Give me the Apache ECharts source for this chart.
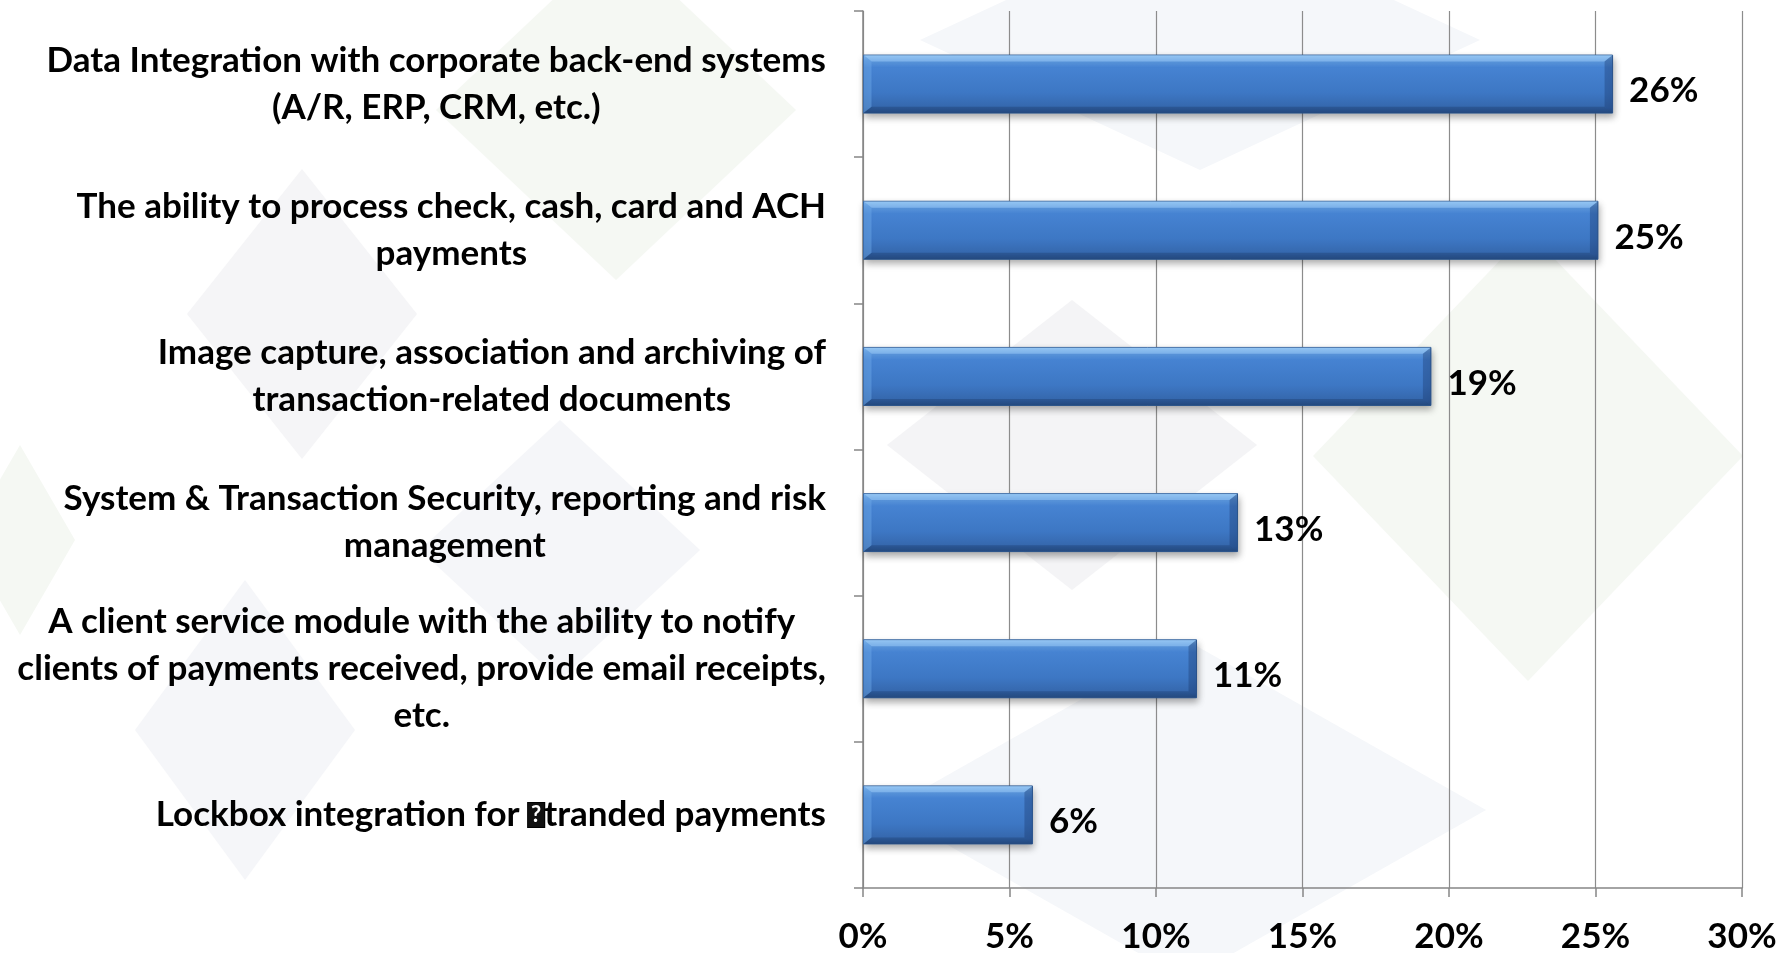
<!DOCTYPE html>
<html>
<head>
<meta charset="utf-8">
<script src="https://cdn.jsdelivr.net/npm/echarts@6/dist/echarts.min.js"></script>
<style>
  html, body { margin: 0; padding: 0; background: #ffffff; }
  #chart { width: 1788px; height: 953px; }
</style>
</head>
<body>
<div id="chart"></div>
<script>
// Survey answers, top to bottom
const categories = [
  'Data Integration with corporate back-end systems\n(A/R, ERP, CRM, etc.)',
  'The ability to process check, cash, card and ACH\npayments',
  'Image capture, association and archiving of\ntransaction-related documents',
  'System & Transaction Security, reporting and risk\nmanagement',
  'A client service module with the ability to notify\nclients of payments received, provide email receipts,\netc.',
  'Lockbox integration for {q|?}tranded payments'
];
// Share of respondents, percent
const shares = [25.6, 25.1, 19.4, 12.8, 11.4, 5.8];
// Value axis ticks, percent
const xTicks = [0, 5, 10, 15, 20, 25, 30];

const FONT = 'Lato, "Open Sans", sans-serif';
const LABEL_SIZE = 35;

// Faint diamond backdrop: [centerX, centerY, halfWidth, halfHeight, fill]
const backdrop = [
  [616, 110, 180, 170, '#f5f8f3'],
  [1200, 40, 280, 130, '#f5f7fa'],
  [302, 314, 115, 145, '#f5f5f7'],
  [560, 550, 140, 130, '#f5f6f9'],
  [245, 730, 110, 150, '#f5f6f9'],
  [1072, 445, 185, 145, '#f4f4f6'],
  [1528, 456, 215, 225, '#f5f8f3'],
  [1186, 810, 300, 170, '#f5f7fa'],
  [20, 540, 55, 95, '#f5f8f3']
];

const chart = echarts.init(document.getElementById('chart'), null, { renderer: 'canvas' });

const barGradient = new echarts.graphic.LinearGradient(0, 0, 0, 1, [
  { offset: 0.00, color: '#8cc2f3' },
  { offset: 0.10, color: '#5f9ce2' },
  { offset: 0.22, color: '#4683d2' },
  { offset: 0.65, color: '#3d77c4' },
  { offset: 0.90, color: '#3567ac' },
  { offset: 1.00, color: '#2c5690' }
]);

// Each line is its own rich token so lines centre inside the right-aligned block
function richLines(text) {
  return text.split('\n').map(function (line) {
    if (line.indexOf('{q|') >= 0) {
      return line.replace(/^(.*?)\{q\|(.*?)\}(.*)$/, function (m, a, b, c) {
        return '{c|' + a + '}{q|' + b + '}{c|' + c + '}';
      });
    }
    return '{c|' + line + '}';
  }).join('\n');
}

const option = {
  backgroundColor: '#ffffff',
  animation: false,
  graphic: backdrop.map(function (d) {
    return {
      type: 'polygon',
      z: -10,
      silent: true,
      shape: { points: [[d[0], d[1] - d[3]], [d[0] + d[2], d[1]], [d[0], d[1] + d[3]], [d[0] - d[2], d[1]]] },
      style: { fill: d[4] }
    };
  }),
  grid: { left: 863, right: 46, top: 11, bottom: 65, containLabel: false, outerBoundsMode: 'none' },
  xAxis: {
    type: 'value',
    min: xTicks[0],
    max: xTicks[xTicks.length - 1],
    interval: xTicks[1] - xTicks[0],
    axisLine: { show: true, lineStyle: { color: '#868686', width: 1.5 } },
    axisTick: { show: true, length: 9, lineStyle: { color: '#868686', width: 1.5 } },
    splitLine: { show: true, lineStyle: { color: '#8c8c8c', width: 1.2 } },
    axisLabel: {
      margin: 31,
      color: '#000',
      fontFamily: FONT,
      fontWeight: 'bold',
      fontSize: LABEL_SIZE,
      formatter: function (v) { return v + '%'; }
    }
  },
  yAxis: {
    type: 'category',
    inverse: true,
    data: categories,
    axisLine: { show: true, lineStyle: { color: '#868686', width: 1.5 } },
    axisTick: { show: true, length: 9, alignWithLabel: false, lineStyle: { color: '#868686', width: 1.5 } },
    axisLabel: {
      margin: 37,
      align: 'right',
      formatter: richLines,
      rich: {
        c: {
          align: 'center',
          color: '#000',
          fontFamily: FONT,
          fontWeight: 'bold',
          fontSize: LABEL_SIZE,
          lineHeight: 47
        },
        q: {
          align: 'center',
          color: '#ffffff',
          backgroundColor: '#111111',
          borderColor: '#000',
          borderWidth: 1,
          fontFamily: FONT,
          fontWeight: 'bold',
          fontSize: 22,
          lineHeight: 28,
          padding: [1, 3, 1, 3]
        }
      }
    }
  },
  series: [
    {
      type: 'bar',
      data: shares,
      barWidth: 59,
      itemStyle: {
        color: barGradient,
        borderColor: '#2e5a93',
        borderWidth: 1,
        shadowColor: 'rgba(0,0,0,0.35)',
        shadowBlur: 7,
        shadowOffsetY: 4,
        shadowOffsetX: 1
      },
      label: {
        show: true,
        position: 'right',
        distance: 16,
        offset: [0, 7],
        color: '#000',
        fontFamily: FONT,
        fontWeight: 'bold',
        fontSize: LABEL_SIZE,
        formatter: function (p) { return Math.round(p.value) + '%'; }
      },
      z: 3
    },
    {
      // bevelled edges drawn over each bar
      type: 'custom',
      silent: true,
      z: 4,
      data: shares.map(function (v, i) { return [v, i]; }),
      encode: { x: 0, y: 1 },
      renderItem: function (params, api) {
        const idx = api.value(1);
        const p0 = api.coord([0, idx]);
        const p1 = api.coord([api.value(0), idx]);
        const h = 59, b = 8;
        const x0 = p0[0] + 0.5, x1 = p1[0] - 0.5;
        const yt = p0[1] - h / 2 + 0.5, yb = p0[1] + h / 2 - 0.5;
        return {
          type: 'group',
          children: [
            { type: 'polygon', shape: { points: [[x0, yt], [x1, yt], [x1 - b, yt + b * 0.8], [x0 + b, yt + b * 0.8]] },
              style: { fill: 'rgba(170,215,255,0.45)' } },
            { type: 'polygon', shape: { points: [[x0, yb], [x1, yb], [x1 - b, yb - b * 0.8], [x0 + b, yb - b * 0.8]] },
              style: { fill: 'rgba(20,45,90,0.30)' } },
            { type: 'polygon', shape: { points: [[x0, yt], [x0 + b, yt + b * 0.8], [x0 + b, yb - b * 0.8], [x0, yb]] },
              style: { fill: 'rgba(110,170,235,0.45)' } },
            { type: 'polygon', shape: { points: [[x1, yt], [x1 - b, yt + b * 0.8], [x1 - b, yb - b * 0.8], [x1, yb]] },
              style: { fill: 'rgba(25,55,105,0.35)' } }
          ]
        };
      }
    }
  ]
};

chart.setOption(option);
</script>
</body>
</html>
